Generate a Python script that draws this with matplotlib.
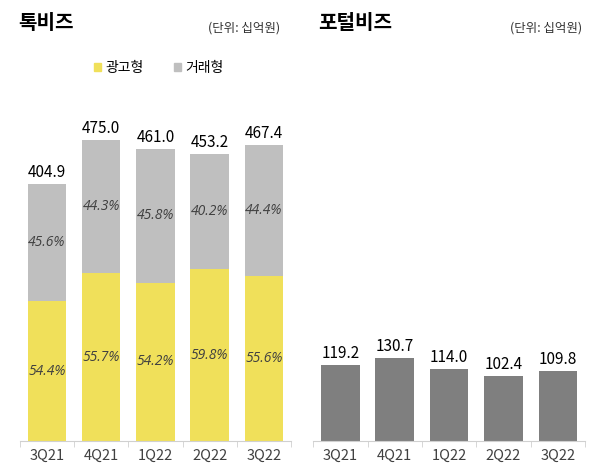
import matplotlib.pyplot as plt
from matplotlib.patches import Patch

plt.rcParams['font.family'] = ['Noto Sans CJK KR', 'DejaVu Sans']

quarters = ["3Q21", "4Q21", "1Q22", "2Q22", "3Q22"]
talk_total = [404.9, 475.0, 461.0, 453.2, 467.4]
ad_share = [54.4, 55.7, 54.2, 59.8, 55.6]
trade_share = [45.6, 44.3, 45.8, 40.2, 44.4]
portal_total = [119.2, 130.7, 114.0, 102.4, 109.8]

YELLOW = "#F0E05A"
LGRAY = "#BFBFBF"
DGRAY = "#7F7F7F"
AXIS = "#D0D0D0"

fig = plt.figure(figsize=(6, 4.73), dpi=100)
ax1 = fig.add_axes([0.033, 0.0677, 0.452, 0.721])
ax2 = fig.add_axes([0.522, 0.0677, 0.453, 0.721])

x = list(range(len(quarters)))
ad_vals = [t * s / 100 for t, s in zip(talk_total, ad_share)]
trade_vals = [t - a for t, a in zip(talk_total, ad_vals)]

b1 = ax1.bar(x, ad_vals, width=0.71, color=YELLOW)
b2 = ax1.bar(x, trade_vals, bottom=ad_vals, width=0.71, color=LGRAY)
ax2.bar(x, portal_total, width=0.71, color=DGRAY)

pct_font = dict(family=['Open Sans', 'DejaVu Sans'], style='italic', fontsize=10, color='#404040')
for i in x:
    ax1.text(i, ad_vals[i] / 2, f"{ad_share[i]:.1f}%", ha='center', va='center', **pct_font)
    ax1.text(i, ad_vals[i] + trade_vals[i] / 2, f"{trade_share[i]:.1f}%", ha='center', va='center', **pct_font)
    ax1.text(i, talk_total[i] + 5, f"{talk_total[i]:.1f}", ha='center', va='bottom', fontsize=11, color='black')
    ax2.text(i, portal_total[i] + 5, f"{portal_total[i]:.1f}", ha='center', va='bottom', fontsize=11, color='black')

for ax in (ax1, ax2):
    ax.set_xlim(-0.5, 4.5)
    ax.set_ylim(0, 538)
    for s in ('top', 'right', 'left'):
        ax.spines[s].set_visible(False)
    ax.spines['bottom'].set_color(AXIS)
    ax.set_yticks([])
    ax.set_xticks(x)
    ax.set_xticklabels(quarters, fontsize=10.5, color='#404040')
    ax.tick_params(axis='x', which='major', length=0, pad=6)
    ax.set_xticks([i - 0.5 for i in range(len(quarters) + 1)], minor=True)
    ax.tick_params(axis='x', which='minor', length=4, color=AXIS)

fig.text(0.03, 0.953, "톡비즈", fontsize=14.5, fontweight='bold', va='center')
fig.text(0.467, 0.94, "(단위: 십억원)", fontsize=9, ha='right', va='center', color='#333333')
fig.text(0.53, 0.953, "포털비즈", fontsize=14.5, fontweight='bold', va='center')
fig.text(0.97, 0.94, "(단위: 십억원)", fontsize=9, ha='right', va='center', color='#333333')

handles = [Patch(color=YELLOW, label="광고형"), Patch(color=LGRAY, label="거래형")]
fig.legend(handles=handles, loc='center', bbox_to_anchor=(0.265, 0.856), ncol=2, frameon=False,
           handlelength=0.5, handleheight=0.5, handletextpad=0.3, columnspacing=2.2, fontsize=10)

fig.savefig("out.png", dpi=100)
